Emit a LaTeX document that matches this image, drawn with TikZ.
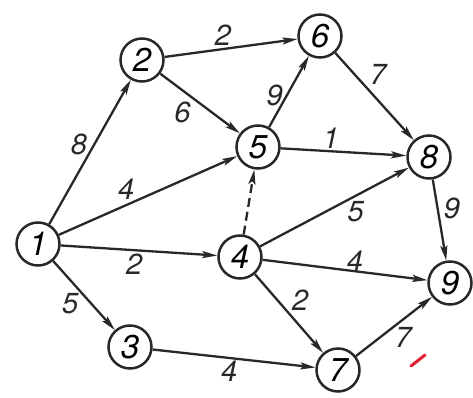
\documentclass[tikz,border=0pt]{standalone}
\usepackage{fontspec}
\setsansfont{TeX Gyre Heros}
\usepackage{tikz}
\usetikzlibrary{arrows.meta}
\definecolor{inkgray}{RGB}{40,40,40}
\definecolor{penred}{RGB}{225,30,50}

\begin{document}
\begin{tikzpicture}[x=1pt, y=-1pt,
  event/.style={draw=inkgray, circle, line width=2.5pt, minimum size=43pt,
    inner sep=0pt, font=\fontsize{33}{33}\selectfont\sffamily\itshape},
  arr/.style={-{Stealth[length=15pt, width=7pt, inset=3pt]}, line width=2.3pt, inkgray},
  lbl/.style={font=\fontsize{29}{29}\selectfont\sffamily\itshape, text=inkgray, inner sep=2pt}]
\useasboundingbox (0,0) rectangle (473,398);
% Events
\node[event] (v1) at (38,244) {1};
\node[event] (v2) at (142,60) {2};
\node[event] (v3) at (130,347) {3};
\node[event] (v4) at (240,257) {4};
\node[event] (v5) at (258,147) {5};
\node[event] (v6) at (320,36) {6};
\node[event] (v7) at (338,370) {7};
\node[event] (v8) at (429,157) {8};
\node[event] (v9) at (450,283) {9};
% From 1
\draw[arr] (v1) -- (v2) node[lbl, pos=0.55, left=4pt] {8};
\draw[arr] (v1) -- (v5) node[lbl, pos=0.43, above left=-2pt] {4};
\draw[arr] (v1) -- (v4) node[lbl, pos=0.47, below=1pt] {2};
\draw[arr] (v1) -- (v3) node[lbl, pos=0.62, left=10pt] {5};
% From 2
\draw[arr] (v2) -- (v6) node[lbl, pos=0.44, above=0pt] {2};
\draw[arr] (v2) -- (v5) node[lbl, pos=0.42, below left=0pt] {6};
% From 5
\draw[arr] (v5) -- (v6) node[lbl, pos=0.45, left=1pt] {9};
\draw[arr] (v5) -- (v8) node[lbl, pos=0.4, above=0pt] {1};
% From 6
\draw[arr] (v6) -- (v8) node[lbl, pos=0.4, above right=0pt] {7};
% From 4
\draw[arr, dash pattern=on 9pt off 5pt] (v4) -- (v5);
\draw[arr] (v4) -- (v8) node[lbl, pos=0.58, below right=-2pt] {5};
\draw[arr] (v4) -- (v9) node[lbl, pos=0.56, above=-3pt] {4};
\draw[arr] (v4) -- (v7) node[lbl, pos=0.5, above right=0pt] {2};
% Bottom and right
\draw[arr] (v3) -- (v7) node[lbl, pos=0.47, below=0pt] {4};
\draw[arr] (v7) -- (v9) node[lbl, pos=0.5, below right=-2pt] {7};
\draw[arr] (v8) -- (v9) node[lbl, pos=0.36, right=3pt] {9};
% Red pen mark
\draw[penred, line width=3pt, line cap=round] (411,366) -- (425,355);
\end{tikzpicture}
\end{document}
